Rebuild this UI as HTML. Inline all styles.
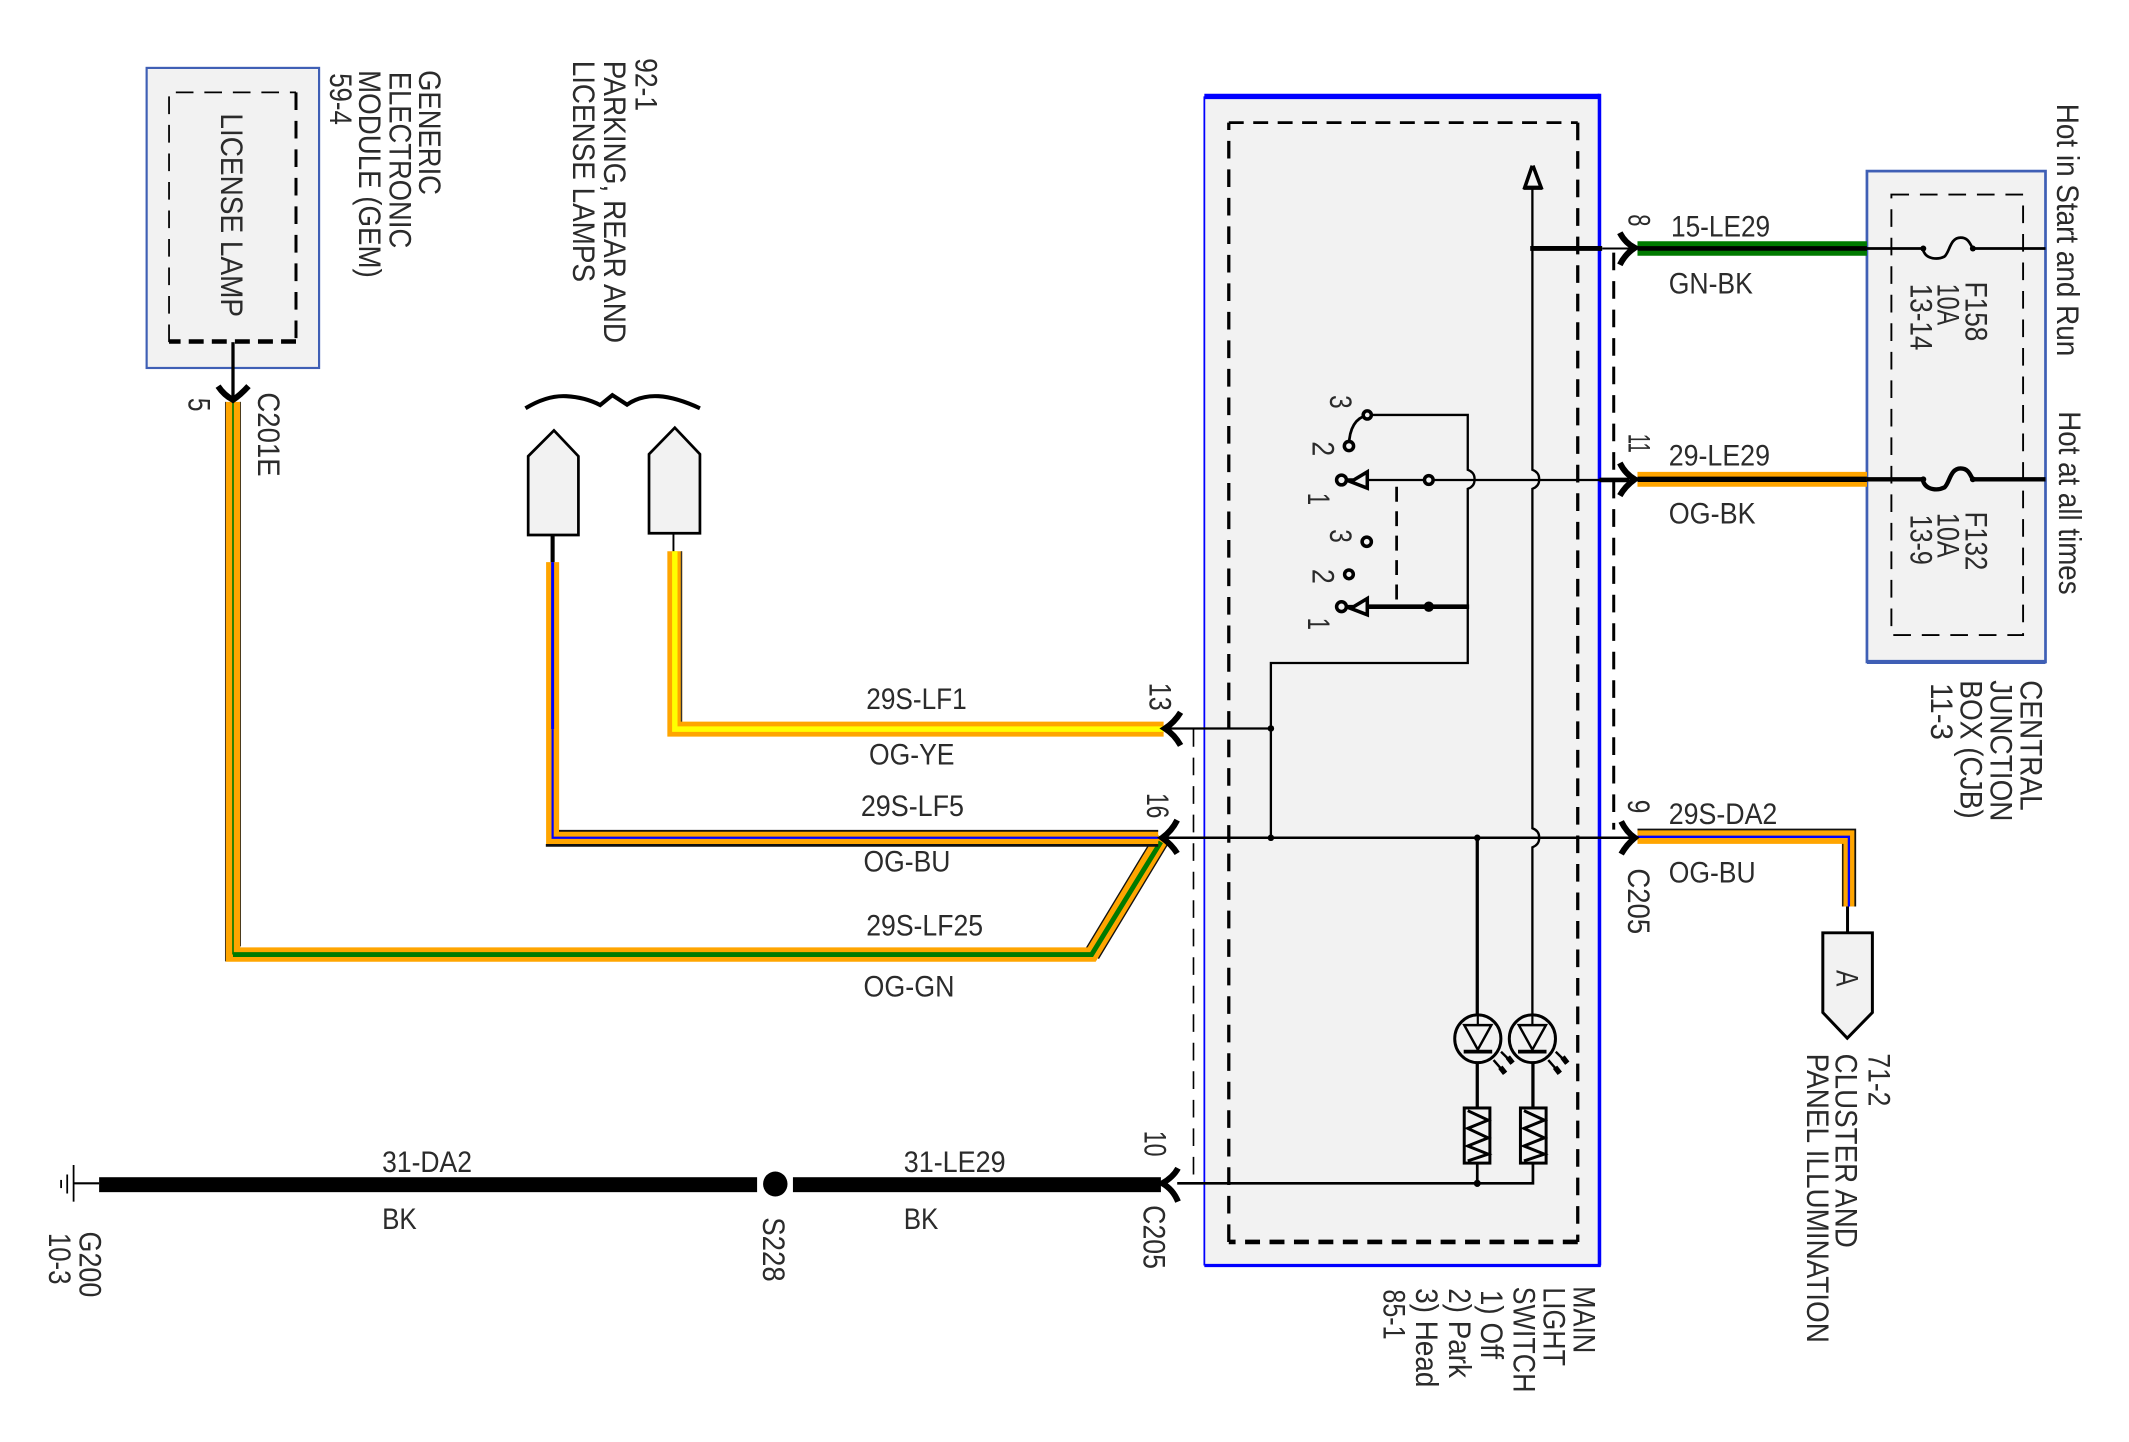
<!DOCTYPE html>
<html>
<head>
<meta charset="utf-8">
<title>Wiring diagram</title>
<style>
html,body{margin:0;padding:0;background:#fff}
svg{display:block}
text{font-family:"Liberation Sans",sans-serif;font-size:22px;fill:#2b2b2b}
.r{font-size:23px}
</style>
</head>
<body>
<svg xmlns="http://www.w3.org/2000/svg" width="2129" height="1442" viewBox="0 0 1568 1062">
<rect width="1568" height="1062" fill="#fff"/>

<!-- boxes -->
<rect x="108" y="50" width="127" height="221" fill="#f2f2f2" stroke="#3f5fb5" stroke-width="1.6"/>
<g fill="none" stroke="#000">
<path d="M124.5,252V68H218" stroke-width="1.3" stroke-dasharray="13 8"/>
<path d="M218,68V251.5" stroke-width="2.2" stroke-dasharray="13 8"/>
<path d="M218,251.5H124.5" stroke-width="3.4" stroke-dasharray="11 6"/>
</g>

<rect x="887" y="71" width="291" height="861" fill="#f2f2f2"/>
<path d="M887,71H1178" stroke="#00f" stroke-width="4" fill="none"/>
<path d="M887,71V932" stroke="#00f" stroke-width="1.3" fill="none"/>
<path d="M1178,69V932" stroke="#00f" stroke-width="2.6" fill="none"/>
<path d="M887,932H1179" stroke="#00f" stroke-width="2.4" fill="none"/>
<g fill="none" stroke="#000">
<path d="M905,914.7V90.3" stroke-width="2.4" stroke-dasharray="13 8"/>
<path d="M905,90.3H1162" stroke-width="2" stroke-dasharray="11 7"/>
<path d="M1162,90.3V914.7" stroke-width="2.4" stroke-dasharray="13 8"/>
<path d="M1162,914.7H905" stroke-width="3.4" stroke-dasharray="11 7"/>
<path d="M1188.5,186V611" stroke-width="2.2" stroke-dasharray="13 8"/>
<path d="M879,537V871" stroke-width="1.2" stroke-dasharray="13 8"/>
</g>

<rect x="1375" y="126" width="131.5" height="361.5" fill="#f2f2f2" stroke="#3f5fb5" stroke-width="2"/>
<path d="M1375,487.5H1506.5" stroke="#3f5fb5" stroke-width="3" fill="none"/>
<rect x="1393" y="143.3" width="97" height="324.4" fill="none" stroke="#000" stroke-width="1.4" stroke-dasharray="13 8"/>

<!-- lamps -->
<g fill="#f2f2f2" stroke="#000" stroke-width="2">
<path d="M389,394V336L408,317L426,336V394Z"/>
<path d="M478,392.7V334.5L497,315L515.5,334.5V392.7Z"/>
<path d="M1342.5,687H1379V745.7L1360.5,764.6L1342.5,745.7Z" stroke-width="2.2"/>
</g>
<path d="M387,300.7Q403,291 417,291.8T442,298.3L451,291L461.8,298Q472,291 485,291.8T515.5,300.7" fill="none" stroke="#000" stroke-width="3"/>
<path d="M407,394V415" stroke="#000" stroke-width="3" fill="none"/>
<path d="M496,393V414" stroke="#000" stroke-width="1.4" fill="none"/>
<path d="M1360.7,664V687" stroke="#000" stroke-width="2.2" fill="none"/>

<!-- coloured wires -->
<g fill="none" stroke-linejoin="miter">
<path d="M804,703L856,617" stroke="#111" stroke-width="12.6"/>
<path d="M166.2,296V708M177,296V697" stroke="#222" stroke-width="1"/>

<path d="M171.6,296V703H804L856,617" stroke="#ffa500" stroke-width="10.6"/>
<path d="M171.6,296V703" stroke="#007a00" stroke-width="1.2"/>
<path d="M171.6,703H804L855,620" stroke="#007a00" stroke-width="3.6"/>

<path d="M497,406V537H857" stroke="#ffa500" stroke-width="11"/>
<path d="M497,406V537H857" stroke="#ff0" stroke-width="4"/>
<path d="M501.9,406V531.5" stroke="#333" stroke-width="1"/>

<path d="M407,414V617H853" stroke="#ffa500" stroke-width="9.6"/>
<path d="M407,414V537" stroke="#00f" stroke-width="2.2"/>
<path d="M407,537V617H853" stroke="#00f" stroke-width="1.6"/>
<path d="M411.7,611.9H853" stroke="#111" stroke-width="1.4"/>
<path d="M402,622.6H853" stroke="#111" stroke-width="2"/>

<path d="M1206,616.3H1361.7V667.6" stroke="#ffa500" stroke-width="10.4"/>
<path d="M1206,616.3H1361.7V667.6" stroke="#00f" stroke-width="1.7"/>
<path d="M1206,610.9H1366.4V667.6" stroke="#111" stroke-width="1.3"/>
<path d="M1357.2,621.5V667.6" stroke="#111" stroke-width="1"/>

<path d="M1206,183H1375" stroke="#007a00" stroke-width="10.7"/>
<path d="M1206,183H1375" stroke="#000" stroke-width="3.4"/>
<path d="M1206,353H1375" stroke="#ffa500" stroke-width="11"/>
<path d="M1206,353H1375" stroke="#000" stroke-width="4"/>
</g>

<rect x="73" y="867" width="484.6" height="11" fill="#000"/>
<rect x="584" y="867" width="271" height="11" fill="#000"/>
<ellipse cx="571" cy="872" rx="9" ry="9.2" fill="#000"/>

<!-- ground -->
<g stroke="#000" fill="none">
<path d="M54.2,871.5H73" stroke-width="1.6"/>
<path d="M54.2,858V885" stroke-width="1.3"/>
<path d="M49.5,865V879" stroke-width="1.3"/>
<path d="M45,869V875" stroke-width="1.3"/>
</g>

<!-- fuses -->
<g fill="none" stroke="#000">
<path d="M1375,183H1416C1418,192 1428,191 1432,189C1436,186 1436,175 1444,175C1450,175 1451,180 1453,183H1506.5" stroke-width="2"/>
<path d="M1375,353H1416C1418,362 1428,361 1432,359C1436,356 1436,345 1444,345C1450,345 1451,350 1453,353H1506.5" stroke-width="3.2"/>
</g>
<g fill="#000">
<circle cx="1416.5" cy="183" r="2.2"/><circle cx="1453" cy="183" r="2.2"/>
<circle cx="1416.5" cy="353" r="2.2"/><circle cx="1453" cy="353" r="2.2"/>
</g>

<!-- internal wiring -->
<g fill="none" stroke="#000">
<path d="M1128.6,138V346C1134,348 1133.6,352 1133.6,353C1133.6,354 1134,358 1128.6,360V610C1134,612 1133.6,616 1133.6,617C1133.6,618 1134,622 1128.6,624V747" stroke-width="1.7"/>
<path d="M1128.5,122L1123,138H1135L1129,122M1122,138.5H1136" stroke-width="2.6"/>
<path d="M1127,183H1180" stroke-width="3.6"/>
<path d="M1180,183H1205" stroke-width="1.5"/>
<path d="M1007,353.5H1178" stroke-width="1.7"/>
<path d="M1178,353.5H1200" stroke-width="3.4"/>
<path d="M1007,305.6H1081V346C1086.5,348 1086,352 1086,353C1086,354 1086.5,358 1081,360V488.3H936V617" stroke-width="1.7"/>
<path d="M1007,305.6Q994,309 993.5,328" stroke-width="2"/>
<path d="M1028.6,358.5V447" stroke-width="2" stroke-dasharray="11 7"/>
<path d="M1007,446.8H1082" stroke-width="3.4"/>
<path d="M857,536.5H936" stroke-width="1.7"/>
<path d="M855,617H1205" stroke-width="1.9"/>
<path d="M1088,616V747" stroke-width="2.4"/>
<path d="M1088,783V816M1129,783V816" stroke-width="2.4"/>
<path d="M1088,856V874M1129,856V871.5H867" stroke-width="2"/>

<!-- switch contacts -->
<g stroke-width="2.6">
<circle cx="1007" cy="305.6" r="3" fill="#f2f2f2"/>
<circle cx="993.5" cy="328.5" r="3.4" fill="#f2f2f2"/>
<circle cx="988" cy="353.5" r="3.6" fill="#f2f2f2"/>
<path d="M991.5,353.5H997L1007,347.5V359.5Z" fill="#f2f2f2"/>
<circle cx="1052.3" cy="353.5" r="3.2" fill="#f2f2f2"/>
<circle cx="1006.6" cy="399" r="3.4" fill="#f2f2f2"/>
<circle cx="993.5" cy="423" r="3.2" fill="#f2f2f2"/>
<circle cx="988" cy="446.8" r="3.6" fill="#f2f2f2"/>
<path d="M991.5,446.8H997L1007,440.8V452.8Z" fill="#f2f2f2"/>
</g>

<!-- LEDs -->
<g stroke-width="2.2">
<ellipse cx="1088.4" cy="765" rx="17" ry="17.6"/>
<ellipse cx="1128.6" cy="765" rx="17" ry="17.6"/>
<path d="M1078.4,755H1098.4L1088.4,773Z" stroke-width="1.8"/>
<path d="M1118.6,755H1138.6L1128.6,773Z" stroke-width="1.8"/>
<path d="M1078,774.5H1099M1118,774.5H1139" stroke-width="2.8"/>
<path d="M1088.4,747V755M1128.6,747V755" stroke-width="1.6"/>
<path d="M1100,780.7L1108.5,790.5M1105.5,774.6L1114,783M1140.3,780.7L1148.8,790.5M1145.8,774.6L1154.3,783" stroke-width="1.8"/>
</g>
<path d="M1105,786L1108.5,790.5M1110.5,778.5L1114,783M1145.3,786L1148.8,790.5M1150.8,778.5L1154.3,783" stroke-width="4"/>

<!-- resistors -->
<g stroke-width="2.2">
<rect x="1078.4" y="816" width="18.9" height="40.6"/>
<rect x="1119.8" y="816" width="18.9" height="40.6"/>
<path d="M1081,818L1096,825L1081,831L1096,838L1081,844L1096,850L1081,855"/>
<path d="M1122.4,818L1137.4,825L1122.4,831L1137.4,838L1122.4,844L1137.4,850L1122.4,855"/>
</g>

<!-- connector chevrons -->
<g stroke-width="4.4">
<path d="M1193,171.4Q1197,179 1204,182.5Q1197,187 1193,195"/>
<path d="M1193,341Q1197,349 1204,353Q1197,358 1193,365"/>
<path d="M1194,605Q1198,613 1204,617Q1198,622 1194,629"/>
<path d="M869.5,524.6Q865,532 858,536.5Q865,541 869.5,549"/>
<path d="M867,604Q863,612 856,617Q863,622 867,628.5"/>
<path d="M867.6,860.4Q864,867 856,871.5Q864,876 867.6,885"/>
<path d="M160.6,284.4Q165,291 171.6,294.5Q177,291 183,284.4"/>
<path d="M171.6,252V295" stroke-width="2.4"/>
</g>
</g>
<g fill="#000">
<circle cx="936" cy="536.5" r="2.4"/>
<circle cx="936" cy="617" r="2.4"/>
<circle cx="1088" cy="617" r="2.4"/>
<circle cx="1088" cy="871.5" r="2.6"/>
<circle cx="1052.3" cy="446.8" r="3.8"/>
</g>

<!-- horizontal labels -->
<text x="1230.7" y="174" textLength="73" lengthAdjust="spacingAndGlyphs">15-LE29</text>
<text x="1229" y="216" textLength="62" lengthAdjust="spacingAndGlyphs">GN-BK</text>
<text x="1229" y="342.7" textLength="74.6" lengthAdjust="spacingAndGlyphs">29-LE29</text>
<text x="1229" y="385.5" textLength="64" lengthAdjust="spacingAndGlyphs">OG-BK</text>
<text x="1229" y="607" textLength="80" lengthAdjust="spacingAndGlyphs">29S-DA2</text>
<text x="1229" y="650" textLength="64" lengthAdjust="spacingAndGlyphs">OG-BU</text>
<text x="638" y="522" textLength="74" lengthAdjust="spacingAndGlyphs">29S-LF1</text>
<text x="640" y="563" textLength="63" lengthAdjust="spacingAndGlyphs">OG-YE</text>
<text x="634" y="601" textLength="76" lengthAdjust="spacingAndGlyphs">29S-LF5</text>
<text x="636" y="642" textLength="64" lengthAdjust="spacingAndGlyphs">OG-BU</text>
<text x="638" y="689" textLength="86" lengthAdjust="spacingAndGlyphs">29S-LF25</text>
<text x="636" y="734" textLength="67" lengthAdjust="spacingAndGlyphs">OG-GN</text>
<text x="281.4" y="863" textLength="66.2" lengthAdjust="spacingAndGlyphs">31-DA2</text>
<text x="665.6" y="863" textLength="75" lengthAdjust="spacingAndGlyphs">31-LE29</text>
<text x="281.4" y="905" textLength="25.5" lengthAdjust="spacingAndGlyphs">BK</text>
<text x="665.6" y="905" textLength="25.5" lengthAdjust="spacingAndGlyphs">BK</text>

<!-- rotated labels -->
<g class="rot">
<text class="r" transform="translate(308.6,51.6) rotate(90)" textLength="92" lengthAdjust="spacingAndGlyphs">GENERIC</text>
<text class="r" transform="translate(287,52.8) rotate(90)" textLength="130" lengthAdjust="spacingAndGlyphs">ELECTRONIC</text>
<text class="r" transform="translate(264.5,51.6) rotate(90)" textLength="153" lengthAdjust="spacingAndGlyphs">MODULE (GEM)</text>
<text class="r" transform="translate(243,53.9) rotate(90)" textLength="38" lengthAdjust="spacingAndGlyphs">59-4</text>
<text class="r" transform="translate(162.6,83.5) rotate(90)" textLength="150" lengthAdjust="spacingAndGlyphs">LICENSE LAMP</text>
<text class="r" transform="translate(139,293) rotate(90)" textLength="10" lengthAdjust="spacingAndGlyphs">5</text>
<text class="r" transform="translate(190,289) rotate(90)" textLength="62" lengthAdjust="spacingAndGlyphs">C201E</text>
<text class="r" transform="translate(468,42.8) rotate(90)" textLength="39" lengthAdjust="spacingAndGlyphs">92-1</text>
<text class="r" transform="translate(445,44.7) rotate(90)" textLength="208" lengthAdjust="spacingAndGlyphs">PARKING, REAR AND</text>
<text class="r" transform="translate(422,44.7) rotate(90)" textLength="163" lengthAdjust="spacingAndGlyphs">LICENSE LAMPS</text>
<text class="r" transform="translate(1515,76.4) rotate(90)" textLength="186" lengthAdjust="spacingAndGlyphs">Hot in Start and Run</text>
<text class="r" transform="translate(1516.5,302.9) rotate(90)" textLength="135" lengthAdjust="spacingAndGlyphs">Hot at all times</text>
<text class="r" transform="translate(1447.5,207.4) rotate(90)" textLength="44" lengthAdjust="spacingAndGlyphs">F158</text>
<text class="r" transform="translate(1427,208.9) rotate(90)" textLength="30.6" lengthAdjust="spacingAndGlyphs">10A</text>
<text class="r" transform="translate(1407,209) rotate(90)" textLength="49" lengthAdjust="spacingAndGlyphs">13-14</text>
<text class="r" transform="translate(1447.5,376.8) rotate(90)" textLength="43.2" lengthAdjust="spacingAndGlyphs">F132</text>
<text class="r" transform="translate(1427,377.7) rotate(90)" textLength="33" lengthAdjust="spacingAndGlyphs">10A</text>
<text class="r" transform="translate(1407,379) rotate(90)" textLength="37" lengthAdjust="spacingAndGlyphs">13-9</text>
<text class="r" transform="translate(1199.5,157.8) rotate(90)" textLength="9" lengthAdjust="spacingAndGlyphs">8</text>
<text class="r" transform="translate(1199.5,319.5) rotate(90)" textLength="14" lengthAdjust="spacingAndGlyphs">11</text>
<text class="r" transform="translate(1199,589) rotate(90)" textLength="10" lengthAdjust="spacingAndGlyphs">9</text>
<text class="r" transform="translate(1199,639.5) rotate(90)" textLength="48.5" lengthAdjust="spacingAndGlyphs">C205</text>
<text class="r" transform="translate(1488,501) rotate(90)" textLength="96" lengthAdjust="spacingAndGlyphs">CENTRAL</text>
<text class="r" transform="translate(1466,501) rotate(90)" textLength="104" lengthAdjust="spacingAndGlyphs">JUNCTION</text>
<text class="r" transform="translate(1444,501) rotate(90)" textLength="102" lengthAdjust="spacingAndGlyphs">BOX (CJB)</text>
<text class="r" transform="translate(1422,503) rotate(90)" textLength="42" lengthAdjust="spacingAndGlyphs">11-3</text>
<text class="r" transform="translate(846.6,502.8) rotate(90)" textLength="20.6" lengthAdjust="spacingAndGlyphs">13</text>
<text class="r" transform="translate(844.6,584) rotate(90)" textLength="18.7" lengthAdjust="spacingAndGlyphs">16</text>
<text class="r" transform="translate(843,832.8) rotate(90)" textLength="19" lengthAdjust="spacingAndGlyphs">10</text>
<text class="r" transform="translate(842,887.6) rotate(90)" textLength="47" lengthAdjust="spacingAndGlyphs">C205</text>
<text class="r" transform="translate(562,896.5) rotate(90)" textLength="47.5" lengthAdjust="spacingAndGlyphs">S228</text>
<text class="r" transform="translate(58.7,907) rotate(90)" textLength="48.5" lengthAdjust="spacingAndGlyphs">G200</text>
<text class="r" transform="translate(36,908) rotate(90)" textLength="38" lengthAdjust="spacingAndGlyphs">10-3</text>
<text class="r" transform="translate(1352.7,714.5) rotate(90)" textLength="12" lengthAdjust="spacingAndGlyphs">A</text>
<text class="r" transform="translate(1376,775.8) rotate(90)" textLength="39" lengthAdjust="spacingAndGlyphs">71-2</text>
<text class="r" transform="translate(1352,776) rotate(90)" textLength="143" lengthAdjust="spacingAndGlyphs">CLUSTER AND</text>
<text class="r" transform="translate(1331,776) rotate(90)" textLength="213" lengthAdjust="spacingAndGlyphs">PANEL ILLUMINATION</text>
<text class="r" transform="translate(1158.7,947.2) rotate(90)" textLength="49.5" lengthAdjust="spacingAndGlyphs">MAIN</text>
<text class="r" transform="translate(1136.6,948) rotate(90)" textLength="58" lengthAdjust="spacingAndGlyphs">LIGHT</text>
<text class="r" transform="translate(1114.7,947.6) rotate(90)" textLength="78" lengthAdjust="spacingAndGlyphs">SWITCH</text>
<text class="r" transform="translate(1090.8,950) rotate(90)" textLength="51" lengthAdjust="spacingAndGlyphs">1) Off</text>
<text class="r" transform="translate(1067,948.8) rotate(90)" textLength="66" lengthAdjust="spacingAndGlyphs">2) Park</text>
<text class="r" transform="translate(1043,948.8) rotate(90)" textLength="73" lengthAdjust="spacingAndGlyphs">3) Head</text>
<text class="r" transform="translate(1019,949.6) rotate(90)" textLength="37" lengthAdjust="spacingAndGlyphs">85-1</text>
<text class="r" transform="translate(979.5,291) rotate(90)" textLength="10" lengthAdjust="spacingAndGlyphs">3</text>
<text class="r" transform="translate(966.7,325) rotate(90)" textLength="11" lengthAdjust="spacingAndGlyphs">2</text>
<text class="r" transform="translate(963.4,363) rotate(90)" textLength="9" lengthAdjust="spacingAndGlyphs">1</text>
<text class="r" transform="translate(979.5,389.8) rotate(90)" textLength="10" lengthAdjust="spacingAndGlyphs">3</text>
<text class="r" transform="translate(966.7,419) rotate(90)" textLength="11" lengthAdjust="spacingAndGlyphs">2</text>
<text class="r" transform="translate(963.4,455) rotate(90)" textLength="9" lengthAdjust="spacingAndGlyphs">1</text>
</g>
</svg>
</body>
</html>
